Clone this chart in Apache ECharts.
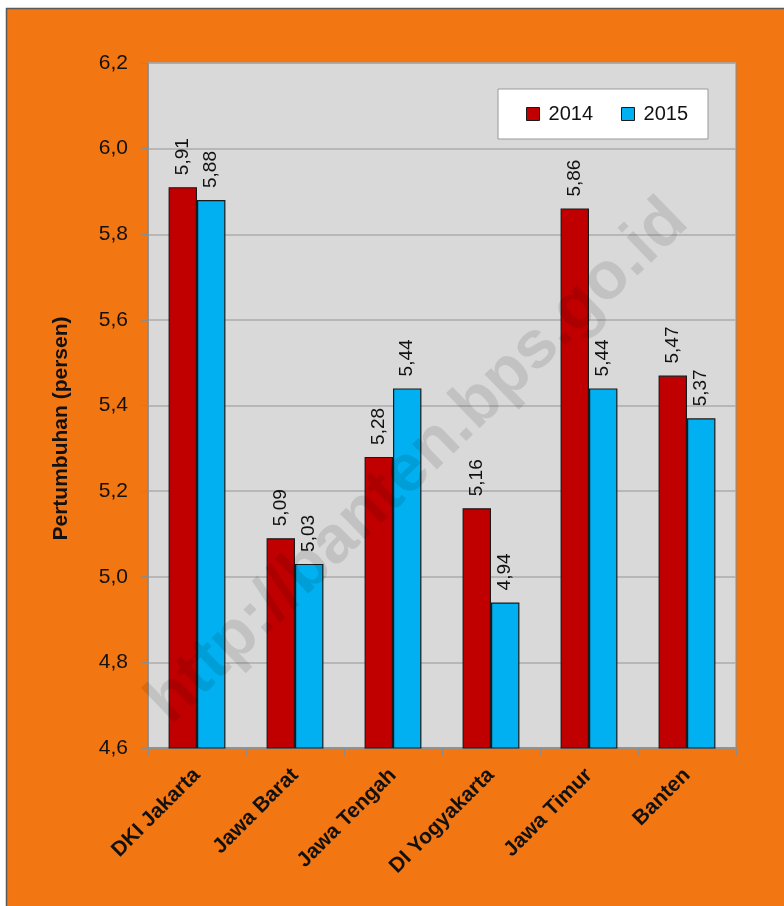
<!DOCTYPE html>
<html>
<head>
<meta charset="utf-8">
<script src="https://cdn.jsdelivr.net/npm/echarts@6/dist/echarts.min.js"></script>
<style>
  html, body { margin: 0; padding: 0; background: #ffffff; }
  #chart { width: 784px; height: 906px; }
</style>
</head>
<body>
<div id="chart"></div>
<script>
// Pertumbuhan ekonomi provinsi di Pulau Jawa, 2014-2015 (persen)
const categories = ['DKI Jakarta', 'Jawa Barat', 'Jawa Tengah', 'DI Yogyakarta', 'Jawa Timur', 'Banten'];
const years = ['2014', '2015'];
const values2014 = [5.91, 5.09, 5.28, 5.16, 5.86, 5.47];
const values2015 = [5.88, 5.03, 5.44, 4.94, 5.44, 5.37];
const yTicks = { min: 4.6, max: 6.2, step: 0.2 };

const FONT = '"Liberation Sans", Arial, sans-serif';
const comma = v => v.toFixed(2).replace('.', ',');

const chart = echarts.init(document.getElementById('chart'), null, { renderer: 'canvas' });

const valueLabel = {
  show: true,
  position: 'top',
  rotate: 90,
  align: 'left',
  verticalAlign: 'middle',
  distance: 12,
  fontFamily: FONT,
  fontSize: 19,
  color: '#111',
  formatter: p => comma(p.value)
};

chart.setOption({
  backgroundColor: '#ffffff',
  animation: false,
  graphic: [
    {
      type: 'rect',
      z: -10,
      silent: true,
      shape: { x: 6.5, y: 8.5, width: 800, height: 920 },
      style: { fill: '#F27612', stroke: '#5a5a5a', lineWidth: 1.5 }
    },
    {
      type: 'text',
      z: 100,
      silent: true,
      x: 418,
      y: 462,
      rotation: Math.PI / 180 * 44,
      style: {
        text: 'http://banten.bps.go.id',
        fontFamily: FONT,
        fontWeight: 'bold',
        fontSize: 67,
        fill: 'rgba(0,0,0,0.1)',
        align: 'center',
        verticalAlign: 'middle'
      }
    }
  ],
  legend: {
    data: years,
    right: 76,
    top: 89,
    width: 210,
    height: 52,
    padding: [15, 20, 15, 28],
    backgroundColor: '#ffffff',
    borderColor: '#999',
    borderWidth: 1,
    icon: 'rect',
    itemWidth: 13,
    itemHeight: 13,
    itemGap: 28,
    itemStyle: { borderColor: '#1a1a1a', borderWidth: 1 },
    textStyle: { fontFamily: FONT, fontSize: 20, color: '#111', padding: [0, 0, 0, 4] }
  },
  grid: {
    left: 148,
    top: 63,
    width: 588,
    height: 685,
    show: true,
    backgroundColor: '#D9D9D9',
    borderColor: '#8a8a8a',
    borderWidth: 1,
    containLabel: false
  },
  xAxis: {
    type: 'category',
    data: categories,
    axisLine: { show: true, lineStyle: { color: '#8a8a8a', width: 1.5 } },
    axisTick: { show: true, length: 7, interval: 0, lineStyle: { color: '#8a8a8a' } },
    axisLabel: {
      interval: 0,
      rotate: 45,
      margin: 24,
      fontFamily: FONT,
      fontWeight: 'bold',
      fontSize: 21,
      color: '#111'
    },
    splitLine: { show: false }
  },
  yAxis: {
    type: 'value',
    min: yTicks.min,
    max: yTicks.max,
    interval: yTicks.step,
    name: 'Pertumbuhan (persen)',
    nameLocation: 'middle',
    nameGap: 76,
    nameRotate: 90,
    nameTextStyle: {
      fontFamily: FONT,
      fontWeight: 'bold',
      fontSize: 21,
      color: '#111',
      padding: [0, 46, 0, 0]
    },
    axisLine: { show: true, lineStyle: { color: '#8a8a8a', width: 1.5 } },
    axisTick: { show: true, length: 6, lineStyle: { color: '#8a8a8a' } },
    axisLabel: {
      margin: 20,
      fontFamily: FONT,
      fontSize: 21,
      color: '#111',
      formatter: v => v.toFixed(1).replace('.', ',')
    },
    splitLine: { show: true, lineStyle: { color: '#ababab', width: 1.5 } }
  },
  series: [
    {
      name: years[0],
      type: 'bar',
      data: values2014,
      barGap: '0%',
      barCategoryGap: '42%',
      itemStyle: { color: '#C00000', borderColor: '#1a1a1a', borderWidth: 1.2 },
      label: valueLabel
    },
    {
      name: years[1],
      type: 'bar',
      data: values2015,
      itemStyle: { color: '#00B0F0', borderColor: '#1a1a1a', borderWidth: 1.2 },
      label: valueLabel
    }
  ]
});
</script>
</body>
</html>
